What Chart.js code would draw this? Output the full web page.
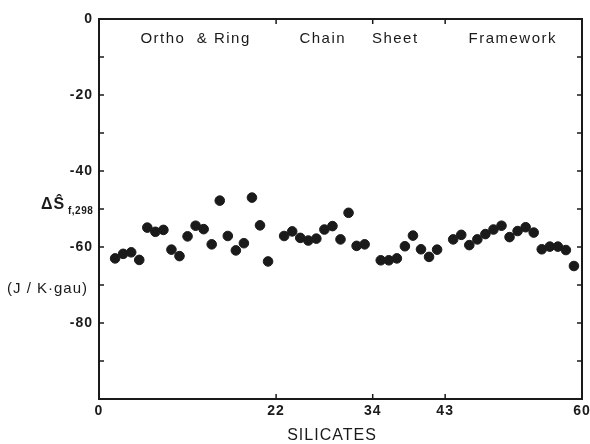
<!DOCTYPE html>
<html>
<head>
<meta charset="utf-8">
<script src="https://cdn.jsdelivr.net/npm/chart.js@4.4.0/dist/chart.umd.min.js"></script>
<style>
  html, body { margin: 0; padding: 0; background: #fff; }
  #wrap { width: 590px; height: 444px; }
</style>
</head>
<body>
<div id="wrap"><canvas id="myChart" width="590" height="444"></canvas></div>
<script>
// silicate number along x, entropy of formation (J/K·gau) on y
var silicateIndex = [2, 3, 4, 5, 6, 7, 8, 9, 10, 11, 12, 13, 14, 15, 16, 17, 18, 19, 20, 21,
    23, 24, 25, 26, 27, 28, 29, 30, 31, 32, 33,
    35, 36, 37, 38, 39, 40, 41, 42,
    44, 45, 46, 47, 48, 49, 50, 51, 52, 53, 54, 55, 56, 57, 58, 59];
var entropy = [-63.0, -61.8, -61.4, -63.4, -54.9, -56.0, -55.5, -60.7, -62.4, -57.2,
    -54.4, -55.3, -59.3, -47.8, -57.1, -60.9, -59.0, -47.0, -54.3, -63.8,
    -57.1, -55.9, -57.6, -58.3, -57.8, -55.4, -54.5, -58.0, -51.0, -59.7, -59.3,
    -63.5, -63.5, -63.0, -59.8, -57.0, -60.6, -62.6, -60.7,
    -58.0, -56.8, -59.5, -58.0, -56.6, -55.4, -54.4, -57.4, -55.8, -54.8, -56.2,
    -60.6, -59.9, -59.9, -60.8, -65.0];
var xTicks = [0, 22, 34, 43, 60];
var yLabelTicks = [0, -20, -40, -60, -80];
var groupNames = ['Ortho  & Ring', 'Chain', 'Sheet', 'Framework'];
var groupCenters = [12, 27.8, 36.8, 51.4];

var points = silicateIndex.map(function (x, i) { return { x: x, y: entropy[i] }; });
var ink = '#1a1a1a';

var framePlugin = {
    id: 'frame',
    afterDraw: function (chart) {
        var ctx = chart.ctx;
        var a = chart.chartArea;
        var xs = chart.scales.x, ys = chart.scales.y;
        ctx.save();
        ctx.strokeStyle = ink;
        ctx.lineWidth = 2;
        ctx.strokeRect(a.left, a.top, a.right - a.left, a.bottom - a.top);

        // inward tick marks
        ctx.lineWidth = 1.5;
        ctx.beginPath();
        ys.ticks.forEach(function (t) {
            if (t.value === 0 || t.value === -100) return;
            var py = ys.getPixelForValue(t.value);
            ctx.moveTo(a.left, py); ctx.lineTo(a.left + 5, py);
            ctx.moveTo(a.right, py); ctx.lineTo(a.right - 5, py);
        });
        xs.ticks.forEach(function (t) {
            if (t.value === 0 || t.value === 60) return;
            var px = xs.getPixelForValue(t.value);
            ctx.moveTo(px, a.bottom); ctx.lineTo(px, a.bottom - 5);
            ctx.moveTo(px, a.top); ctx.lineTo(px, a.top + 5);
        });
        ctx.stroke();

        ctx.fillStyle = ink;
        ctx.letterSpacing = '1px';
        ctx.font = 'bold 14px "Liberation Sans", Arial, sans-serif';
        // y tick labels
        ctx.textAlign = 'right';
        ctx.textBaseline = 'middle';
        yLabelTicks.forEach(function (v) {
            ctx.fillText(String(v), a.left - 6, ys.getPixelForValue(v));
        });
        // x tick labels
        ctx.textAlign = 'center';
        xTicks.forEach(function (v) {
            ctx.fillText(String(v), xs.getPixelForValue(v), a.bottom + 12);
        });

        // group names along the top
        ctx.font = '15px "Liberation Sans", Arial, sans-serif';
        ctx.letterSpacing = '1.5px';
        groupNames.forEach(function (name, i) {
            ctx.fillText(name, xs.getPixelForValue(groupCenters[i]), a.top + 20);
        });

        // axis titles
        ctx.font = '16px "Liberation Sans", Arial, sans-serif';
        ctx.letterSpacing = '1px';
        ctx.fillText('SILICATES', 332, 436);

        ctx.textAlign = 'left';
        ctx.font = 'bold 16px "Liberation Sans", Arial, sans-serif';
        ctx.letterSpacing = '1px';
        ctx.fillText('\u0394\u015C', 41, 205);
        ctx.font = 'bold 10px "Liberation Sans", Arial, sans-serif';
        ctx.letterSpacing = '0.5px';
        ctx.fillText('f,298', 68, 211);

        ctx.font = '15px "Liberation Sans", Arial, sans-serif';
        ctx.letterSpacing = '1px';
        ctx.fillText('(J / K\u00B7gau)', 7, 289);
        ctx.restore();
    }
};

var ctx = document.getElementById('myChart').getContext('2d');
var chart = new Chart(ctx, {
    type: 'scatter',
    data: {
        datasets: [{
            data: points,
            backgroundColor: ink,
            borderColor: ink,
            pointRadius: 4.8,
            pointHoverRadius: 4.8,
            showLine: false
        }]
    },
    options: {
        responsive: false,
        animation: false,
        layout: { padding: { top: 19, right: 8, left: 0, bottom: 0 } },
        plugins: { legend: { display: false }, tooltip: { enabled: false } },
        scales: {
            x: {
                type: 'linear',
                min: 0,
                max: 60,
                grid: { display: false },
                border: { display: false },
                ticks: { display: false },
                afterBuildTicks: function (scale) {
                    scale.ticks = xTicks.map(function (v) { return { value: v }; });
                },
                afterFit: function (scale) { scale.height = 45; }
            },
            y: {
                min: -100,
                max: 0,
                grid: { display: false },
                border: { display: false },
                ticks: { display: false, stepSize: 10 },
                afterFit: function (scale) { scale.width = 99; }
            }
        }
    },
    plugins: [framePlugin]
});
</script>
</body>
</html>
